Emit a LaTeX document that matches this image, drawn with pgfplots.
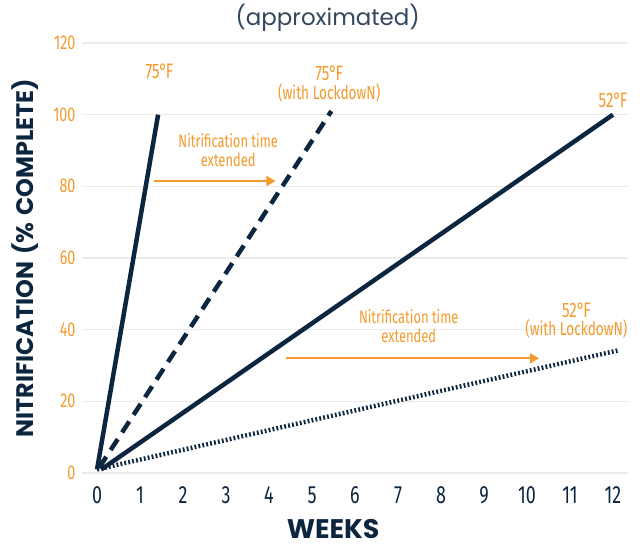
\documentclass[border=0pt]{standalone}
\usepackage{fontspec}
\usepackage{pgfplots}
\pgfplotsset{compat=1.18}
\usetikzlibrary{arrows.meta}
\setmainfont{Fira Sans}
\newfontfamily\cond[FakeStretch=0.72]{Fira Sans}
\newfontfamily\geo{Poppins}
\definecolor{navy}{HTML}{0D2640}
\definecolor{orng}{HTML}{F39A2B}
\definecolor{gridc}{HTML}{EBEBEB}
\newcommand{\dg}{°\kern-1.5bp}
\begin{document}
\begin{tikzpicture}
\path[use as bounding box] (-82bp,-75bp) rectangle (559bp,473bp);
\begin{axis}[
  scale only axis, width=546bp, height=430bp,
  xmin=-0.35, xmax=12.35, ymin=0, ymax=120,
  axis lines=none,
  xtick={0,...,12}, ytick={0,20,...,120},
  ymajorgrids, grid style={gridc, line width=1.6bp},
  /pgf/number format/assume math mode=true,
  xticklabel style={font=\cond\fontsize{25}{27}\selectfont, text=navy},
  yticklabel style={font=\cond\fontsize{20}{22}\selectfont, text=orng},
  hide x axis=false, hide y axis=false,
  axis x line*=bottom, axis y line*=left,
  x axis line style={draw=none}, y axis line style={draw=none},
  major tick length=0pt,
  xticklabel shift=10bp, yticklabel shift=3bp,
  clip=false,
  title={\geo\fontsize{23}{25}\selectfont (approximated)},
  title style={text=navy!85, at={(0.45,1)}, anchor=south, yshift=2bp},
  xlabel={\geo\bfseries\fontsize{27}{29}\selectfont WEEKS},
  xlabel style={text=navy, at={(0.46,0)}, anchor=base, inner sep=0pt, yshift=-65bp},
  ylabel={\geo\bfseries\fontsize{24}{26}\selectfont NITRIFICATION\hspace{7bp}(\%\hspace{7bp}COMPLETE)},
  ylabel style={text=navy, at={(0,0.5)}, anchor=south, yshift=40bp},
]
% 75F
\addplot[navy, line width=4.5bp] coordinates {(0,1) (1.42,100)};
% 75F lockdown
\addplot[navy, line width=4.5bp, dash pattern=on 13bp off 8bp] coordinates {(0.05,1.5) (5.45,101)};
% 52F
\addplot[navy, line width=4.5bp] coordinates {(0.1,1) (12,100)};
% 52F lockdown
\addplot[navy, line width=4.5bp, dash pattern=on 1.8bp off 2.2bp] coordinates {(0,1) (12.15,34.3)};
% arrows
\addplot[orng, line width=2bp, -{Triangle[length=9bp,width=10bp]}] coordinates {(1.32,81.5) (4.15,81.5)};
\addplot[orng, line width=2bp, -{Triangle[length=9bp,width=10bp]}] coordinates {(4.4,32) (10.28,32)};
% labels
\node[text=orng, font=\cond\fontsize{21}{23}\selectfont] at (axis cs:1.45,112) {75\dg F};
\node[text=orng, font=\cond\fontsize{21}{23}\selectfont, align=center, anchor=south] at (axis cs:5.4,102.5) {75\dg F\\[-4bp]{\fontsize{19}{21}\selectfont (with LockdowN)}};
\node[text=orng, font=\cond\fontsize{21}{23}\selectfont, anchor=south] at (axis cs:12.0,101) {52\dg F};
\node[text=orng, font=\cond\fontsize{21}{23}\selectfont, align=center, anchor=south] at (axis cs:11.15,36.5) {52\dg F\\[-4bp]{\fontsize{19}{21}\selectfont (with LockdowN)}};
\node[text=orng, font=\cond\fontsize{18}{19}\selectfont, align=center] at (axis cs:3.05,90) {Nitrification time\\extended};
\node[text=orng, font=\cond\fontsize{18}{19}\selectfont, align=center] at (axis cs:7.25,41) {Nitrification time\\extended};
\end{axis}
\end{tikzpicture}
\end{document}
